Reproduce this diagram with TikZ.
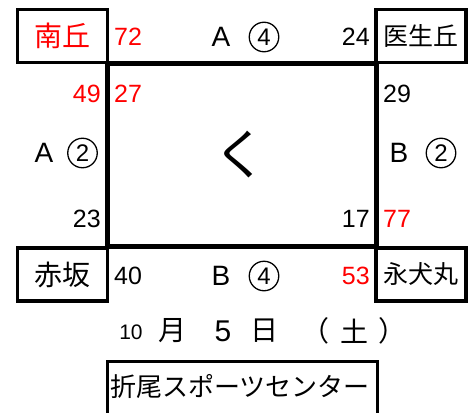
\documentclass[tikz,border=0pt]{standalone}
\usepackage{fontspec}
\setmainfont{Noto Sans CJK JP}
\newfontfamily\latinfont{Liberation Sans}
\usetikzlibrary{positioning,calc}

\begin{document}
\begin{tikzpicture}[x=1pt,y=-1pt,
    placebox/.style={draw,line width=3.5pt,minimum width=90pt,minimum height=53pt,inner sep=0pt},
    score/.style={inner sep=0pt,font=\latinfont\fontsize{25}{25}\selectfont},
    letter/.style={inner sep=0pt,font=\latinfont\fontsize{28}{28}\selectfont},
    circnum/.style={circle,draw,line width=1.3pt,minimum size=29.5pt,inner sep=0pt,
      font=\latinfont\fontsize{24}{24}\selectfont},
    datetext/.style={inner sep=0pt,font=\fontsize{28}{28}\selectfont}]
	\useasboundingbox (0,0) rectangle (476,412);
	\clip (0,0) rectangle (476,412);
	% court
	\node[draw,line width=5pt,minimum width=269pt,minimum height=183pt,inner sep=0pt] (court) at (242,155) {};
	\node[inner sep=0pt,font=\fontsize{54}{54}\selectfont] (mark) at (240,155) {く};
	% corner places
	\node[placebox,text=red,font=\fontsize{28}{28}\selectfont] (minamioka) at (62.5,36) {南丘};
	\node[placebox,font=\fontsize{25}{25}\selectfont] (iseioka) at (421,36) {医生丘};
	\node[placebox,font=\fontsize{28}{28}\selectfont] (akasaka) at (62.5,274.5) {赤坂};
	\node[placebox,font=\fontsize{25}{25}\selectfont] (eiinumaru) at (421,274.5) {永犬丸};
	% teams
	\node[letter] (topteam) at (221,37) {A};
	\node[circnum] (topnum) at (264,37) {4};
	\node[letter] (leftteam) at (44,153) {A};
	\node[circnum] (leftnum) at (82.5,153) {2};
	\node[letter] (rightteam) at (399,153) {B};
	\node[circnum] (rightnum) at (441,153) {2};
	\node[letter] (bottomteam) at (221,276) {B};
	\node[circnum] (bottomnum) at (264,276) {4};
	% scores
	\node[score,text=red,anchor=west] (s72) at (114,37) {72};
	\node[score,anchor=east] (s24) at (370,37) {24};
	\node[score,text=red,anchor=east] (s49) at (101,93.5) {49};
	\node[score,text=red,anchor=west] (s27) at (114,93.5) {27};
	\node[score,anchor=west] (s29) at (383,93.5) {29};
	\node[score,anchor=east] (s23) at (101,218.5) {23};
	\node[score,anchor=east] (s17) at (370,218.5) {17};
	\node[score,text=red,anchor=west] (s77) at (383,218.5) {77};
	\node[score,anchor=west] (s40) at (114,276) {40};
	\node[score,text=red,anchor=east] (s53) at (370,276) {53};
	% date
	\node[inner sep=0pt,font=\latinfont\fontsize{21}{21}\selectfont] (month) at (131,332) {10};
	\node[datetext] (tsuki) at (172,331) {月};
	\node[datetext,font=\latinfont\fontsize{30}{30}\selectfont] (day) at (223,331) {5};
	\node[datetext] (hi) at (264,331) {日};
	\node[datetext] (lparen) at (315,331) {（};
	\node[datetext] (weekday) at (354,331) {土};
	\node[datetext] (rparen) at (392,331) {）};
	% venue
	\node[draw,line width=3.5pt,minimum width=270pt,minimum height=90pt,inner sep=0pt,
		anchor=north] (venuebox) at (242.5,359.5) {};
	\node[inner sep=0pt,font=\fontsize{26}{26}\selectfont] (venue) at (240,386) {折尾スポーツセンター};
\end{tikzpicture}
\end{document}
